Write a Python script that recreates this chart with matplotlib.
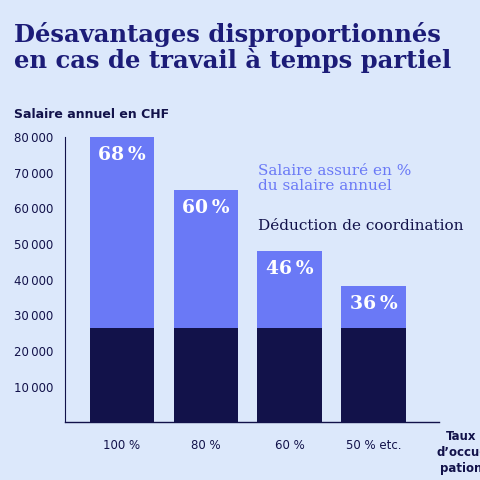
import matplotlib
matplotlib.use("Agg")
import matplotlib.pyplot as plt

categories = ["100 %", "80 %", "60 %", "50 % etc."]
totals = [80000, 65000, 47900, 38200]
deduction = [26460, 26460, 26460, 26460]
pct_labels = ["68\u2009%", "60\u2009%", "46\u2009%", "36\u2009%"]
yticks = [10000, 20000, 30000, 40000, 50000, 60000, 70000, 80000]

bg = "#dce8fb"
navy = "#12124a"
light = "#6a79f6"

fig = plt.figure(figsize=(4.8, 4.8), dpi=100, facecolor=bg)
ax = fig.add_axes([0.135, 0.12, 0.78, 0.595], facecolor=bg)

x = list(range(len(categories)))
upper = [t - d for t, d in zip(totals, deduction)]
ax.bar(x, deduction, width=0.77, color=navy)
ax.bar(x, upper, bottom=deduction, width=0.77, color=light)
for xi, t, lab in zip(x, totals, pct_labels):
    ax.text(xi, t - 2500, lab, ha="center", va="top", color="white",
            fontsize=13.5, fontweight="bold", family="DejaVu Serif")

ax.set_xlim(-0.68, 3.78)
ax.set_ylim(0, 80000)
ax.set_yticks(yticks)
ax.set_yticklabels([f"{v:,}".replace(",", "\u2009") for v in yticks], fontsize=8.5, color=navy)
ax.set_xticks(x)
ax.set_xticklabels(categories, fontsize=8.5, color=navy)
ax.tick_params(length=0, pad=8)
ax.tick_params(axis="x", pad=12)
for s in ["top", "right", "bottom"]:
    ax.spines[s].set_visible(False)
ax.spines["left"].set_color(navy)
ax.plot([-0.68, 3.78], [0, 0], color=navy, lw=1, clip_on=False)

ax.text(1.62, 72500, "Salaire assuré en %\ndu salaire annuel", color=light,
        fontsize=11, family="DejaVu Serif", va="top", linespacing=1.1)
ax.text(1.62, 57000, "Déduction de coordination", color=navy,
        fontsize=11, family="DejaVu Serif", va="top")
ax.text(4.04, -2000, "Taux\nd’occu-\npation", color=navy, fontsize=8.5,
        fontweight="bold", ha="center", va="top", linespacing=1.3)

fig.text(0.03, 0.955, "Désavantages disproportionnés\nen cas de travail à temps partiel",
         color="#1c1c78", fontsize=17.5, fontweight="bold", family="DejaVu Serif",
         va="top", linespacing=1.05)
fig.text(0.03, 0.755, "Salaire annuel en CHF", color=navy, fontsize=9, fontweight="bold")

fig.savefig("out.png", dpi=100, facecolor=bg)
